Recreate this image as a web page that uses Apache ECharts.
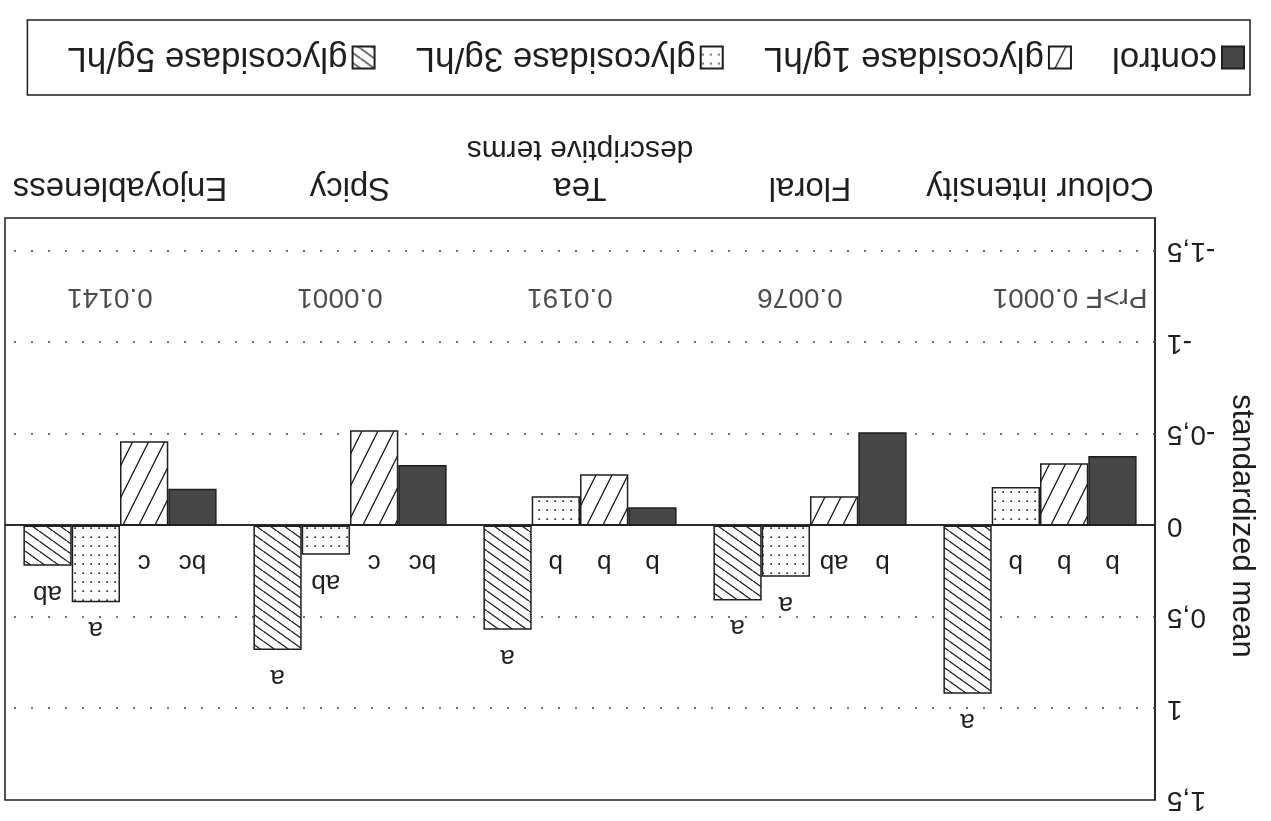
<!DOCTYPE html>
<html>
<head>
<meta charset="utf-8">
<title>standardized mean by descriptive term</title>
<script src="https://cdn.jsdelivr.net/npm/echarts@6/dist/echarts.min.js"></script>
<style>
  html, body { margin: 0; padding: 0; background: #fff; }
  /* the scanned page is upside down, so the whole chart is turned round */
  #chart { width: 1271px; height: 821px; transform: rotate(180deg); }
</style>
</head>
<body>
<div id="chart"></div>
<script>
// data (standardized means)
const categories = ['Colour intensity', 'Floral', 'Tea', 'Spicy', 'Enjoyableness']
const seriesNames = ['control', 'glycosidase 1g/hL', 'glycosidase 3g/hL', 'glycosidase 5g/hL']
const control = [-0.38, -0.51, -0.10, -0.33, -0.20]
const glyco1 = [-0.34, -0.16, -0.28, -0.52, -0.46]
const glyco3 = [-0.21, 0.28, -0.16, 0.16, 0.42]
const glyco5 = [0.92, 0.41, 0.57, 0.68, 0.22]

// significance letters per series, one per category
const lettersControl = ['b', 'b', 'b', 'bc', 'bc']
const letters1 = ['b', 'ab', 'b', 'c', 'c']
const letters3 = ['b', 'a', 'b', 'ab', 'a']
const letters5 = ['a', 'a', 'a', 'a', 'ab']

const probTexts = ['Pr>F 0.0001', '0.0076', '0.0191', '0.0001', '0.0141']
const probLevel = -1.25

const yTicks = [-1.5, -1, -0.5, 0, 0.5, 1, 1.5]
const dottedLevels = [-1.5, -1, -0.5, 0.5, 1]

const FONT = '"Liberation Sans", Arial, sans-serif'
const INK = '#1e1e1e'

function tile(w, h, draw) {
  const c = document.createElement('canvas')
  c.width = w
  c.height = h
  const ctx = c.getContext('2d')
  ctx.fillStyle = '#fff'
  ctx.fillRect(0, 0, w, h)
  ctx.strokeStyle = INK
  ctx.fillStyle = '#333'
  ctx.lineWidth = 1.3
  draw(ctx, w, h)
  return { image: c, repeat: 'repeat' }
}

// "/" hatch, wide spacing
const slashFill = tile(16, 32, (ctx, w, h) => {
  ctx.beginPath()
  for (const dx of [-w, 0, w]) {
    ctx.moveTo(dx, h)
    ctx.lineTo(dx + w, 0)
  }
  ctx.stroke()
})
// dotted fill
const dotFill = tile(8, 9, (ctx) => {
  ctx.fillRect(3, 4, 1.7, 1.7)
})
// "\" hatch, dense
const backFill = tile(14, 10, (ctx, w, h) => {
  ctx.beginPath()
  for (const dx of [-w, 0, w]) {
    ctx.moveTo(dx, 0)
    ctx.lineTo(dx + w, h)
  }
  ctx.stroke()
})

const fills = ['#474747', slashFill, dotFill, backFill]
const values = [control, glyco1, glyco3, glyco5]
const letters = [lettersControl, letters1, letters3, letters5]

const barSeries = values.map((vals, s) => ({
  name: seriesNames[s],
  type: 'bar',
  barGap: 0,
  barCategoryGap: '16%',
  z: 3,
  itemStyle: { color: fills[s], borderColor: INK, borderWidth: 1.5 },
  label: {
    show: true,
    position: 'top',
    fontSize: 26,
    color: INK,
    formatter: (p) => letters[s][p.dataIndex],
  },
  data: vals.map((v) => ({ value: v, label: { distance: v < 0 ? 24 : 14 } })),
}))

// gridlines: dotted levels + solid zero line
barSeries[0].markLine = {
  silent: true,
  z: 1,
  symbol: 'none',
  label: { show: false },
  data: [
    ...dottedLevels.map((v) => ({ yAxis: v, lineStyle: { type: [2, 15], width: 1.6, color: '#444' } })),
    { yAxis: 0, lineStyle: { type: 'solid', width: 1.5, color: INK } },
  ],
}

const probSeries = {
  type: 'scatter',
  symbolSize: 0,
  silent: true,
  data: categories.map((c, i) => ({
    value: [c, probLevel],
    label: { offset: i === 0 ? [-30, 0] : [10, 0] },
  })),
  label: {
    show: true,
    position: 'inside',
    fontSize: 28,
    color: INK,
    formatter: (p) => probTexts[p.dataIndex],
  },
}

const chart = echarts.init(document.getElementById('chart'), null, { renderer: 'canvas' })
chart.setOption({
  backgroundColor: '#fff',
  animation: false,
  textStyle: { fontFamily: FONT, color: INK },
  legend: {
    data: seriesNames,
    left: 21,
    top: 726,
    icon: 'rect',
    itemWidth: 22,
    itemHeight: 22,
    itemGap: 40,
    padding: [20, 40, 20, 5],
    borderColor: INK,
    borderWidth: 1.5,
    textStyle: { fontSize: 35, color: INK, fontFamily: FONT },
  },
  grid: { left: 116, right: 5, top: 21, bottom: 218, show: true, borderColor: INK, borderWidth: 1.5 },
  xAxis: {
    type: 'category',
    data: categories,
    name: 'descriptive terms',
    nameLocation: 'middle',
    nameGap: 54,
    nameTextStyle: { fontSize: 30, color: INK },
    axisLine: { lineStyle: { color: INK, width: 1.5 } },
    axisTick: { inside: true, alignWithLabel: true, length: 12, lineStyle: { color: INK, width: 1.5 } },
    axisLabel: { interval: 0, fontSize: 33, color: INK, margin: 14 },
  },
  yAxis: {
    type: 'value',
    min: -1.68,
    max: 1.5,
    name: 'standardized mean',
    nameLocation: 'middle',
    nameGap: 70,
    nameRotate: 90,
    nameTextStyle: { fontSize: 31, color: INK, padding: [0, 0, 0, 34] },
    axisLine: { show: true, lineStyle: { color: INK, width: 1.5 } },
    axisTick: { show: false },
    splitLine: { show: false },
    axisLabel: {
      customValues: yTicks,
      fontSize: 28,
      color: INK,
      margin: 12,
      formatter: (v) => String(v).replace('.', ','),
    },
  },
  series: [...barSeries, probSeries],
})
</script>
</body>
</html>
